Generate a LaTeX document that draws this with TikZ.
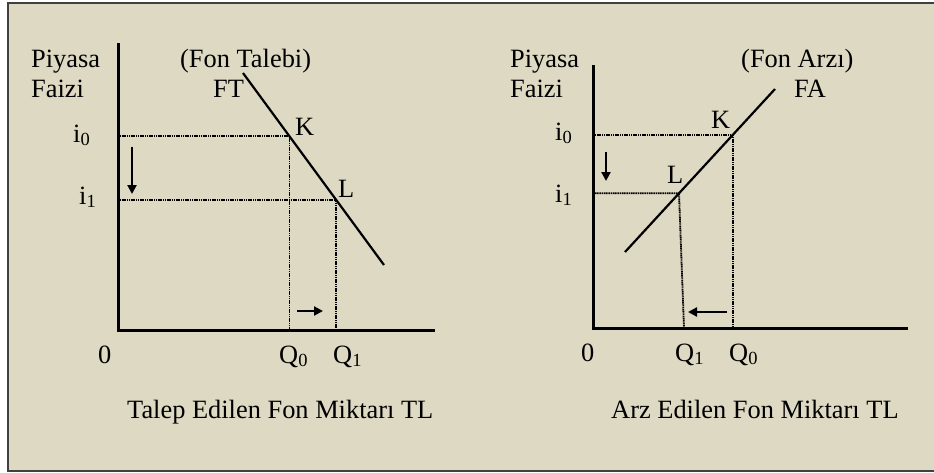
\documentclass[tikz,border=0pt]{standalone}
\usepackage{fontspec}
\setmainfont{Liberation Serif}
\usepackage{xcolor}
\usepackage{tikz}
\usetikzlibrary{arrows.meta, calc}
\definecolor{paneltan}{HTML}{DDD9C3}
\tikzset{
  axisline/.style={line width=3pt, black},
  curveline/.style={line width=2.2pt, black},
  guideline/.style={line width=1.8pt, black, dash pattern=on 1.2pt off 0.6pt},
  shiftarrow/.style={line width=2.6pt, -{Triangle[length=9pt, width=9pt]}},
  lbl/.style={inner sep=0pt, anchor=base west, font=\fontsize{26.4}{31}\selectfont},
}

\begin{document}
\begin{tikzpicture}[x=1pt, y=-1pt]
  \useasboundingbox (0,0) rectangle (934,472);
  % Frame
  \fill[white] (0,0) rectangle (934,472);
  \draw[fill=paneltan, draw=black!75, line width=2.4pt] (8,3) rectangle (936,471);

  % Left panel: Fon Talebi
  \coordinate (O1) at (118,330);
  \coordinate (ytop1) at (118,43);
  \coordinate (xend1) at (435,330);
  \coordinate (FTa) at (243,73);
  \coordinate (FTb) at (384,265);
  \coordinate (K1) at ($(FTa)!0.33!(FTb)$);
  \coordinate (L1) at ($(FTa)!0.66!(FTb)$);

  \draw[guideline] (O1 |- K1) -- (K1) -- (K1 |- O1);
  \draw[guideline] (O1 |- L1) -- (L1) -- (L1 |- O1);
  \draw[curveline] (FTa) -- (FTb);
  \draw[axisline] (ytop1) -- (O1) -- (xend1);

  \coordinate (dn1a) at (132,147);
  \coordinate (dn1b) at (132,194);
  \coordinate (rt1a) at (297,311);
  \coordinate (rt1b) at (323,311);
  \draw[shiftarrow] (dn1a) -- (dn1b);
  \draw[shiftarrow] (rt1a) -- (rt1b);

  \node[lbl] (piy1) at (31,67) {Piyasa};
  \node[lbl] (faiz1) at (31,97) {Faizi};
  \node[lbl] (ftname) at (180,67) {(Fon Talebi)};
  \node[lbl] (ft) at (213,97) {FT};
  \node[lbl] (k1lbl) at (295,135) {K};
  \node[lbl] (l1lbl) at (338,197) {L};
  \node[lbl] (i0a) at (73,142) {i\textsubscript{0}};
  \node[lbl] (i1a) at (79,204) {i\textsubscript{1}};
  \node[lbl] (zero1) at (98,363) {0};
  \node[lbl] (q0a) at (279,363) {Q\textsubscript{0}};
  \node[lbl] (q1a) at (333,363) {Q\textsubscript{1}};
  \node[lbl] (xlbl1) at (127,418) {Talep Edilen Fon Miktarı TL};

  % Right panel: Fon Arzi
  \coordinate (O2) at (593,328);
  \coordinate (ytop2) at (593,65);
  \coordinate (xend2) at (908,328);
  \coordinate (FAa) at (625,252);
  \coordinate (FAb) at (775,89);
  \coordinate (K2) at ($(FAa)!0.72!(FAb)$);
  \coordinate (L2) at ($(FAa)!0.36!(FAb)$);
  \coordinate (q1foot) at ($(L2 |- O2)+(5,0)$);

  \draw[guideline] (O2 |- K2) -- (K2) -- (K2 |- O2);
  \draw[guideline] (O2 |- L2) -- (L2) -- (q1foot);
  \draw[curveline] (FAa) -- (FAb);
  \draw[axisline] (ytop2) -- (O2) -- (xend2);

  \coordinate (dn2a) at (606,152);
  \coordinate (dn2b) at (606,181);
  \coordinate (lf2a) at (727,312);
  \coordinate (lf2b) at (688,312);
  \draw[shiftarrow] (dn2a) -- (dn2b);
  \draw[shiftarrow] (lf2a) -- (lf2b);

  \node[lbl] (piy2) at (510,67) {Piyasa};
  \node[lbl] (faiz2) at (510,97) {Faizi};
  \node[lbl] (faname) at (741,67) {(Fon Arzı)};
  \node[lbl] (fa) at (794,97) {FA};
  \node[lbl] (k2lbl) at (711,128) {K};
  \node[lbl] (l2lbl) at (667,183) {L};
  \node[lbl] (i0b) at (555,140) {i\textsubscript{0}};
  \node[lbl] (i1b) at (555,202) {i\textsubscript{1}};
  \node[lbl] (zero2) at (581,361) {0};
  \node[lbl] (q1b) at (675,361) {Q\textsubscript{1}};
  \node[lbl] (q0b) at (729,361) {Q\textsubscript{0}};
  \node[lbl] (xlbl2) at (611,418) {Arz Edilen Fon Miktarı TL};
\end{tikzpicture}
\end{document}
